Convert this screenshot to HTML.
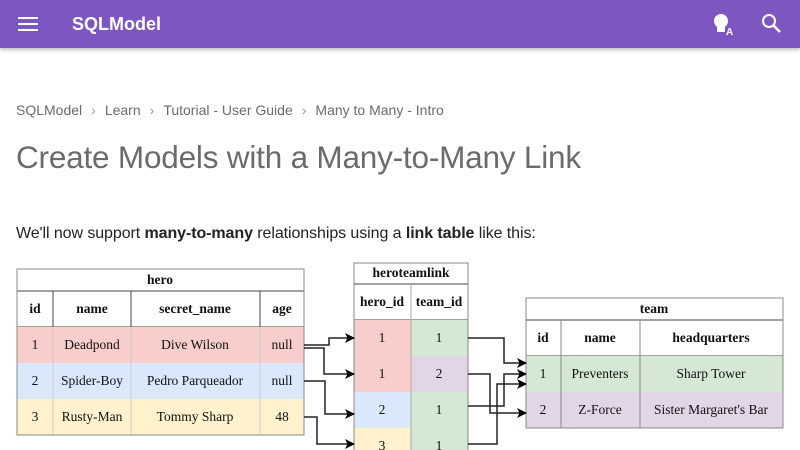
<!DOCTYPE html>
<html><head><meta charset="utf-8"><style>
body{margin:0;width:800px;height:450px;overflow:hidden;background:#fff;font-family:"Liberation Sans",sans-serif;}
.bar{position:absolute;left:0;top:0;width:800px;height:48px;background:#7e56c2;box-shadow:0 2px 4px rgba(0,0,0,.25);color:#fff;}
.bc{position:absolute;left:16px;top:102px;font-size:14px;color:#6b6b6b;}
.bc span.s{margin:0 9px;color:#999}
h1{position:absolute;left:16px;top:139px;margin:0;font-size:31.5px;font-weight:300;color:#6b6b6b;letter-spacing:-0.2px}
p{position:absolute;left:16px;top:225px;margin:0;font-size:16px;color:#222;letter-spacing:-0.08px}
svg{position:absolute;left:0;top:0}
</style></head><body>
<div class="bar">
<svg width="800" height="48">
<rect x="18" y="17" width="20" height="2" fill="#fff"/><rect x="18" y="23" width="20" height="2" fill="#fff"/><rect x="18" y="29" width="20" height="2" fill="#fff"/>
<circle cx="721" cy="21" r="7" fill="#fff"/><rect x="717" y="27" width="8" height="5" fill="#fff"/><text x="726" y="35" font-size="10" font-weight="bold" fill="#fff" font-family="Liberation Sans">A</text>
<circle cx="769" cy="21" r="6" fill="none" stroke="#fff" stroke-width="2"/><line x1="773" y1="25" x2="780" y2="32" stroke="#fff" stroke-width="2.5"/>
</svg>
<div style="position:absolute;left:72px;top:14px;font-size:18px;font-weight:bold">SQLModel</div>
</div>
<div class="bc">SQLModel<span class="s">›</span>Learn<span class="s">›</span>Tutorial - User Guide<span class="s">›</span>Many to Many - Intro</div>
<h1>Create Models with a Many-to-Many Link</h1>
<p>We'll now support <b>many-to-many</b> relationships using a <b>link table</b> like this:</p>
<svg width="800" height="450" style="top:0" font-family="Liberation Serif" font-size="13.5">
<defs><marker id="a" markerWidth="10" markerHeight="10" refX="9" refY="5" orient="auto" markerUnits="userSpaceOnUse"><path d="M0,0 L10,5 L0,10 L2.5,5z" fill="#000"/></marker></defs>
<g stroke="#444" stroke-width="1">
<rect x="17" y="269" width="287" height="22" fill="#fff"/>
<rect x="17" y="291" width="287" height="36" fill="#fff"/>
<rect x="17" y="327" width="287" height="36" fill="#f8cecc" stroke="none"/>
<rect x="17" y="363" width="287" height="36" fill="#dae8fc" stroke="none"/>
<rect x="17" y="399" width="287" height="36" fill="#fff2cc" stroke="none"/>
<rect x="17" y="269" width="287" height="166" fill="none" stroke="#888"/>
<line x1="53" y1="291" x2="53" y2="327"/><line x1="131" y1="291" x2="131" y2="327"/><line x1="260" y1="291" x2="260" y2="327"/>
<line x1="53" y1="327" x2="53" y2="435" stroke="#ccc"/><line x1="131" y1="327" x2="131" y2="435" stroke="#ccc"/><line x1="260" y1="327" x2="260" y2="435" stroke="#ccc"/>
<rect x="354" y="263" width="114" height="21" fill="#fff"/>
<rect x="354" y="284" width="114" height="36" fill="#fff"/>
<rect x="354" y="320" width="57" height="72" fill="#f8cecc" stroke="none"/>
<rect x="354" y="392" width="57" height="36" fill="#dae8fc" stroke="none"/>
<rect x="354" y="428" width="57" height="36" fill="#fff2cc" stroke="none"/>
<rect x="411" y="320" width="57" height="36" fill="#d5e8d4" stroke="none"/>
<rect x="411" y="356" width="57" height="36" fill="#e1d5e7" stroke="none"/>
<rect x="411" y="392" width="57" height="72" fill="#d5e8d4" stroke="none"/>
<rect x="354" y="263" width="114" height="200" fill="none" stroke="#888"/>
<line x1="411" y1="284" x2="411" y2="464" stroke="#aaa"/>
<rect x="526" y="298" width="257" height="22" fill="#fff"/>
<rect x="526" y="320" width="257" height="36" fill="#fff"/>
<rect x="526" y="356" width="257" height="36" fill="#d5e8d4" stroke="none"/>
<rect x="526" y="392" width="257" height="36" fill="#e1d5e7" stroke="none"/>
<rect x="526" y="298" width="257" height="130" fill="none" stroke="#888"/>
<line x1="561" y1="320" x2="561" y2="428" stroke="#888"/><line x1="640" y1="320" x2="640" y2="428" stroke="#888"/>
</g>
<g stroke="#222" stroke-width="1.5" fill="none" marker-end="url(#a)">
<path d="M304,345 H329 V338 H354"/>
<path d="M304,348 H324 V374 H354"/>
<path d="M304,381 H325 V414 H354"/>
<path d="M304,417 H317 V444 H354"/>
<path d="M468,338 H504 V363 H526"/>
<path d="M468,374 H490 V413 H526"/>
<path d="M468,406 H504 V374 H526"/>
<path d="M468,444 H497 V384 H526"/>
</g>
<g text-anchor="middle" fill="#111">
<g font-weight="bold">
<text x="160" y="284">hero</text>
<text x="35" y="313">id</text><text x="92" y="313">name</text><text x="195" y="313">secret_name</text><text x="282" y="313">age</text>
<text x="411" y="277">heroteamlink</text>
<text x="382" y="306">hero_id</text><text x="439" y="306">team_id</text>
<text x="654" y="313">team</text>
<text x="543" y="342">id</text><text x="600" y="342">name</text><text x="711" y="342">headquarters</text>
</g>
<text x="35" y="349">1</text><text x="92" y="349">Deadpond</text><text x="195" y="349">Dive Wilson</text><text x="282" y="349">null</text>
<text x="35" y="385">2</text><text x="92" y="385">Spider-Boy</text><text x="195" y="385">Pedro Parqueador</text><text x="282" y="385">null</text>
<text x="35" y="421">3</text><text x="92" y="421">Rusty-Man</text><text x="195" y="421">Tommy Sharp</text><text x="282" y="421">48</text>
<text x="382" y="342">1</text><text x="439" y="342">1</text>
<text x="382" y="378">1</text><text x="439" y="378">2</text>
<text x="382" y="414">2</text><text x="439" y="414">1</text>
<text x="382" y="450">3</text><text x="439" y="450">1</text>
<text x="543" y="378">1</text><text x="600" y="378">Preventers</text><text x="711" y="378">Sharp Tower</text>
<text x="543" y="414">2</text><text x="600" y="414">Z-Force</text><text x="711" y="414">Sister Margaret's Bar</text>
</g>
</svg>
</body></html>
